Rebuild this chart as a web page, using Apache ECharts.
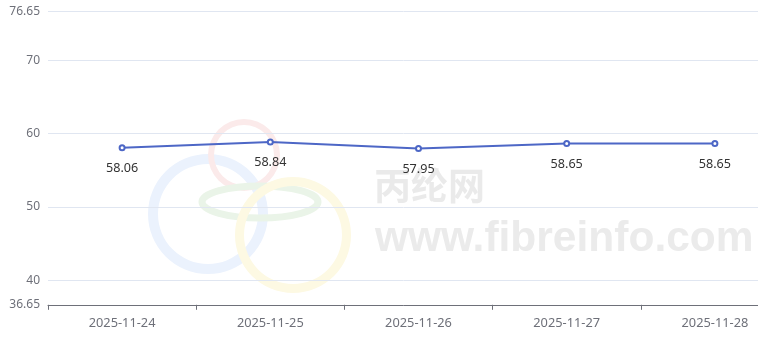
<!DOCTYPE html>
<html>
<head>
<meta charset="utf-8">
<script src="https://cdn.jsdelivr.net/npm/echarts@6/dist/echarts.min.js"></script>
<style>
html,body{margin:0;padding:0;background:#fff;}
#chart{width:758px;height:344px;}
</style>
</head>
<body>
<div id="chart"></div>
<script>
const categories = ['2025-11-24', '2025-11-25', '2025-11-26', '2025-11-27', '2025-11-28'];
const values = [58.06, 58.84, 57.95, 58.65, 58.65];
const yMin = 36.65;
const yMax = 76.65;

const chart = echarts.init(document.getElementById('chart'));
const ff = '"Noto Sans","Noto Sans CJK SC",sans-serif';
chart.setOption({
  animation: false,
  textStyle: { fontFamily: ff },
  grid: { left: 48, top: 11.5, width: 741, height: 293.3, containLabel: false, outerBoundsMode: 'none' },
  graphic: [
    { type: 'ring', z: -10, shape: { cx: 208, cy: 214, r: 60, r0: 50 }, style: { fill: '#ebf2fd' } },
    { type: 'ring', z: -10, shape: { cx: 244, cy: 155, r: 36, r0: 30 }, style: { fill: '#fbeaea' } },
    { type: 'ellipse', z: -10, shape: { cx: 260, cy: 202, rx: 58, ry: 16 }, style: { fill: 'none', stroke: '#eaf4e8', lineWidth: 7 } },
    { type: 'ring', z: -10, shape: { cx: 293, cy: 235, r: 58, r0: 49 }, style: { fill: '#fdf9e3' } },
    { type: 'text', z: -9, left: 374, top: 167, style: { text: '丙纶网', fill: '#eaeaea', font: 'bold 37px "Noto Sans CJK SC",sans-serif' } },
    { type: 'text', z: -9, left: 375, top: 218, style: { text: 'www.fibreinfo.com', fill: '#ebebeb', font: 'bold 42.5px "Liberation Sans",Arial,sans-serif' } }
  ],
  xAxis: {
    type: 'category',
    data: categories,
    boundaryGap: true,
    axisLine: { lineStyle: { color: '#6e7079' } },
    axisTick: { show: true, lineStyle: { color: '#6e7079' } },
    axisLabel: { color: '#6e7079', fontSize: 12.8, margin: 12 }
  },
  yAxis: {
    type: 'value',
    min: yMin,
    max: yMax,
    axisLine: { show: false },
    axisTick: { show: false },
    axisLabel: { color: '#6e7079', fontSize: 12 },
    splitLine: { lineStyle: { color: '#e0e6f1' } }
  },
  series: [{
    type: 'line',
    data: values,
    symbol: 'emptyCircle',
    symbolSize: 5,
    lineStyle: { color: '#4d67c6', width: 2 },
    itemStyle: { color: '#4d67c6' },
    label: { show: true, position: 'bottom', distance: 11, color: '#333', fontSize: 12.6 }
  }]
});
</script>
</body>
</html>
